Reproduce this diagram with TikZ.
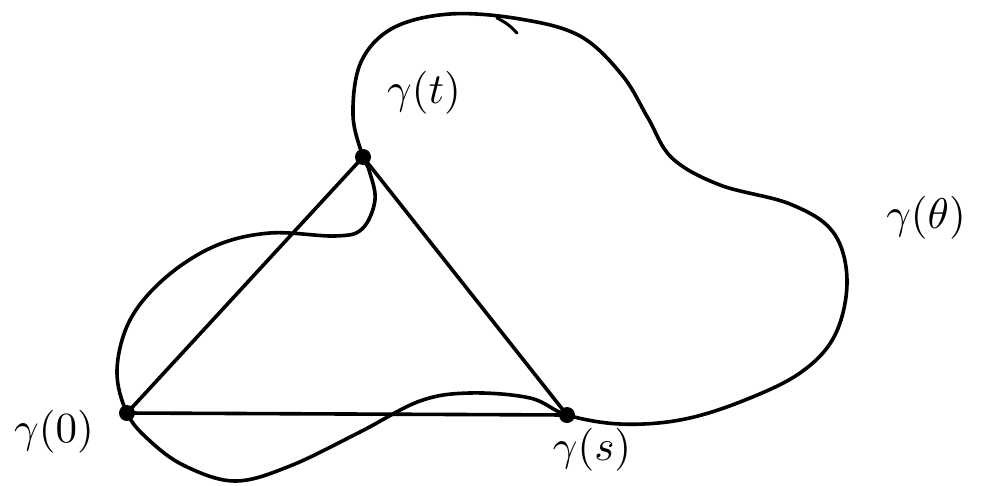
\documentclass[tikz,border=0pt]{standalone}
\begin{document}
\begin{tikzpicture}[x=1pt,y=-1pt,
  stroke/.style={line width=3.6pt,line cap=round,line join=round},
  pt/.style={circle,fill=black,inner sep=0pt,minimum size=16pt},
  lbl/.style={scale=4.3}]
\useasboundingbox (0,0) rectangle (994,485);
\node[pt] (g0) at (127,413) {};
\node[pt] (gt) at (363,157) {};
\node[pt] (gs) at (567,415) {};
\draw[stroke] plot[smooth cycle,tension=0.6] coordinates {
 (127,413) (117,370) (130,320) (165,278) (215,246) (270,233)
 (335,236) (362,229) (375,200) (369,170) (363,157)
 (353,115) (361,62) (393,28) (450,14) (520,19) (580,36)
 (622,75) (648,118) (672,158) (720,185) (790,204) (833,232)
 (847,280) (835,335) (800,373) (740,402) (680,420) (620,424) (567,415)
 (530,398) (470,393) (420,401) (360,432) (290,466) (235,481)
 (185,466) (150,441)};
\draw[stroke] (g0.center) -- (gt.center) -- (gs.center) -- cycle;
\coordinate (tk1) at (497,18);
\coordinate (tk2) at (517,33);
\draw[line width=3pt,line cap=round] (tk1) to[bend left=10] (tk2);
\node[lbl] (lg0) at (54,432) {$\gamma(0)$};
\node[lbl] (lgt) at (424,93) {$\gamma(t)$};
\node[lbl] (lgs) at (592,450) {$\gamma(s)$};
\node[lbl] (lgth) at (926,218) {$\gamma(\theta)$};
\end{tikzpicture}
\end{document}
